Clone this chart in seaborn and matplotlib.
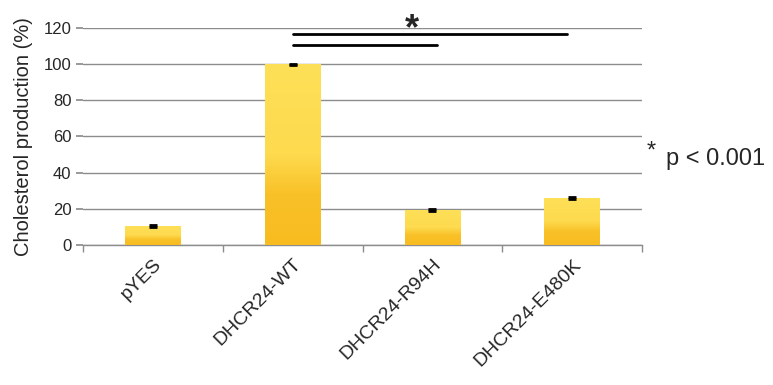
import numpy as np
import pandas as pd
import matplotlib
matplotlib.use('Agg')
import matplotlib.pyplot as plt
from matplotlib.colors import LinearSegmentedColormap
import seaborn as sns

# data
strains = ['pYES', 'DHCR24-WT', 'DHCR24-R94H', 'DHCR24-E480K']
production = [10.6, 100.0, 19.3, 26.1]
sem = [0.5, 0.4, 0.4, 0.5]
yticks = [0, 20, 40, 60, 80, 100, 120]

df = pd.DataFrame({'strain': strains, 'production': production})

sns.set_theme(style='white')
plt.rcParams['font.family'] = ['Liberation Sans', 'DejaVu Sans']

fig = plt.figure(figsize=(7.73, 3.85), dpi=100)
ax = fig.add_axes([0.107, 0.364, 0.724, 0.563])

sns.barplot(data=df, x='strain', y='production', width=0.4,
            color='#FCD23F', errorbar=None, ax=ax, zorder=2)

# vertical gradient inside each bar (light top, darker bottom)
cmap = LinearSegmentedColormap.from_list(
    'bar', [(0.0, '#F8BC20'), (0.28, '#F9C128'), (0.5, '#FDDA4E'), (1.0, '#FEE058')])
grad = np.linspace(0, 1, 256).reshape(-1, 1)
for p in ax.patches:
    x0, y0 = p.get_x(), p.get_y()
    w, h = p.get_width(), p.get_height()
    im = ax.imshow(grad, cmap=cmap, origin='lower', aspect='auto',
                   extent=[x0, x0 + w, y0, y0 + h], zorder=3)
    im.set_clip_path(p)
    p.set_edgecolor('none')

ax.errorbar(range(len(strains)), production, yerr=sem, fmt='none',
            ecolor='black', elinewidth=1.2, capsize=3, capthick=2, zorder=4)

ax.set_xlim(-0.5, len(strains) - 0.5)
ax.set_ylim(0, 120)
ax.set_yticks(yticks)
ax.yaxis.grid(True, color='#8c8c8c', lw=1)
ax.set_axisbelow(True)
for s in ['top', 'right', 'left']:
    ax.spines[s].set_visible(False)
ax.spines['bottom'].set_color('#8c8c8c')
ax.spines['bottom'].set_linewidth(1)

ax.tick_params(axis='y', which='major', left=True, length=5, color='#8c8c8c',
               labelsize=12, pad=3)
ax.set_xticks(range(len(strains)))
ax.set_xticklabels(strains, rotation=45, ha='right', rotation_mode='anchor',
                   fontsize=14)
ax.tick_params(axis='x', which='major', length=0, pad=8)
ax.set_xticks(np.arange(-0.5, len(strains), 1), minor=True)
ax.tick_params(axis='x', which='minor', bottom=True, length=5, color='#8c8c8c')

ax.set_xlabel('')
ax.set_ylabel('Cholesterol production (%)', fontsize=14.5)
ax.yaxis.set_label_coords(-0.106, 0.5)
ax.yaxis.label.set_verticalalignment('center')

# significance bars
ax.plot([1.0, 2.96], [117, 117], color='black', lw=2, clip_on=False, zorder=5)
ax.plot([1.0, 2.03], [110.5, 110.5], color='black', lw=2, clip_on=False, zorder=5)
ax.text(1.85, 114, '*', fontsize=26, fontweight='bold', ha='center', va='baseline')

fig.text(0.837, 0.592, '*', fontsize=17, ha='left', va='baseline')
fig.text(0.862, 0.571, 'p < 0.001', fontsize=17, ha='left', va='baseline')

fig.savefig('out.png', dpi=100)
